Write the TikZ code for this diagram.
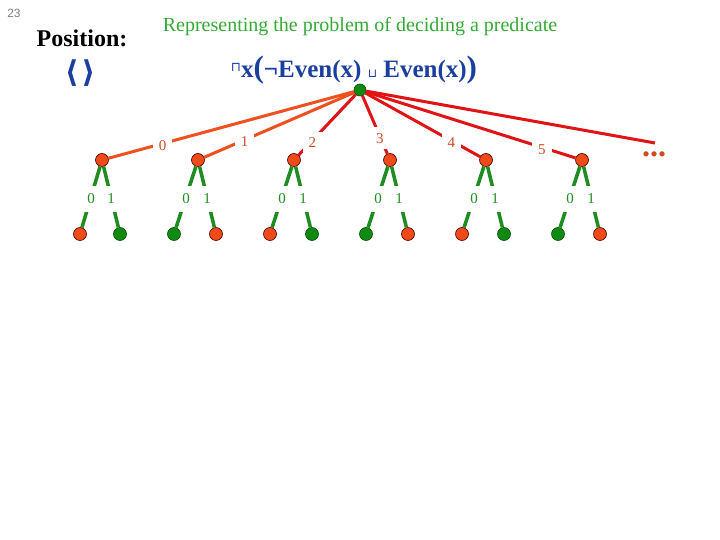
\documentclass[tikz,border=0pt]{standalone}
\usepackage{fontspec}
\setmainfont{Liberation Serif}
\newfontfamily\djv{DejaVu Sans}
\newfontfamily\lsans{Liberation Sans}
\definecolor{ored}{HTML}{EE4A1A}
\definecolor{oedge}{HTML}{EE5020}
\definecolor{redge}{HTML}{E01414}
\definecolor{gfill}{HTML}{128A12}
\definecolor{gedge}{HTML}{1E8C1E}
\definecolor{titleg}{HTML}{33AA33}
\definecolor{fblue}{HTML}{1A3FA0}
\definecolor{labo}{HTML}{D04A20}
\definecolor{labg}{HTML}{1E8C1E}
\tikzset{
  onode/.style={circle,fill=ored,draw=black!70!red,line width=0.6pt,minimum size=13pt,inner sep=0pt},
  gnode/.style={circle,fill=gfill,draw=black!70!green,line width=0.6pt,minimum size=13pt,inner sep=0pt},
  oline/.style={draw=oedge,line width=3pt},
  rline/.style={draw=redge,line width=3pt},
  gline/.style={draw=gedge,line width=3.5pt},
  toplab/.style={fill=white,text=labo,font=\fontsize{15}{15}\selectfont,inner sep=6pt,yshift=-2pt},
  leaflab/.style={fill=white,text=labg,font=\fontsize{15}{15}\selectfont,inner xsep=5pt,inner ysep=8pt,yshift=-2pt}
}
\begin{document}
\begin{tikzpicture}[x=1pt,y=-1pt]
\useasboundingbox[fill=white] (0,0) rectangle (720,540);
% header texts
\node[text=gray,font=\lsans\fontsize{12}{12}\selectfont] (pg) at (14,13) {23};
\node[font=\bfseries\fontsize{24}{24}\selectfont] (pos) at (82,38) {Position:};
\node[text=fblue,font=\djv\bfseries\fontsize{30}{30}\selectfont] (ang) at (80,73) {⟨\kern3pt⟩};
\node[text=titleg,font=\fontsize{20}{20}\selectfont] (title) at (360,27) {Representing the problem of deciding a predicate};
\node[text=fblue,font=\bfseries\fontsize{25}{25}\selectfont,inner sep=0pt] (form) at (354,70)
  {\raisebox{6pt}{\djv\mdseries\fontsize{13}{13}\selectfont ⊓}x{\fontsize{31}{31}\selectfont(}¬Even(x) {\djv\mdseries\fontsize{12}{12}\selectfont ⊔} Even(x){\fontsize{31}{31}\selectfont)}};
% root
\node[gnode,minimum size=12pt] (r) at (360,90) {};
% level 1
\node[onode] (a0) at (102,160) {};
\node[onode] (a1) at (198,160) {};
\node[onode] (a2) at (294,160) {};
\node[onode] (a3) at (390,160) {};
\node[onode] (a4) at (486,160) {};
\node[onode] (a5) at (582,160) {};
\coordinate (dd) at (655,143);
% level-1 edges
\draw[oline] (r) -- node[toplab,pos=0.78]{0} (a0);
\draw[oline] (r) -- node[toplab,pos=0.73]{1} (a1);
\draw[rline] (r) -- node[toplab,pos=0.76]{2} (a2);
\draw[rline] (r) -- node[toplab,pos=0.70]{3} (a3);
\draw[rline] (r) -- node[toplab,pos=0.75]{4} (a4);
\draw[rline] (r) -- node[toplab,pos=0.84]{5} (a5);
\draw[rline] (r) -- (dd);
\node[text=labo,font=\bfseries\fontsize{32}{32}\selectfont,anchor=base] (dots) at (654,157) {...};
% leaves
\node[onode] (b00) at (80,234) {};  \node[gnode] (b01) at (120,234) {};
\node[gnode] (b10) at (174,234) {}; \node[onode] (b11) at (216,234) {};
\node[onode] (b20) at (270,234) {}; \node[gnode] (b21) at (312,234) {};
\node[gnode] (b30) at (366,234) {}; \node[onode] (b31) at (408,234) {};
\node[onode] (b40) at (462,234) {}; \node[gnode] (b41) at (504,234) {};
\node[gnode] (b50) at (558,234) {}; \node[onode] (b51) at (600,234) {};
\foreach \i in {0,...,5}{
  \draw[gline] (a\i) -- node[leaflab,pos=0.5]{0} (b\i0);
  \draw[gline] (a\i) -- node[leaflab,pos=0.5]{1} (b\i1);
}
\end{tikzpicture}
\end{document}
